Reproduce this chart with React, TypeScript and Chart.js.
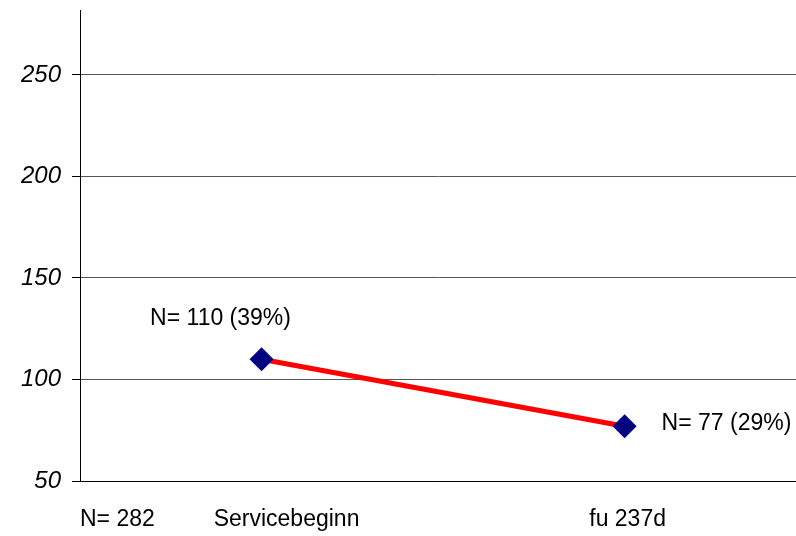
import React, { useEffect, useRef } from "react";
import { Chart, registerables } from "chart.js";

Chart.register(...registerables);

const categories = ["Servicebeginn", "fu 237d"];
const values = [110, 77];
const pointLabels = ["N= 110 (39%)", "N= 77 (29%)"];
const totalLabel = "N= 282";
const yTicks = [50, 100, 150, 200, 250];

const FONT = "'Liberation Sans', Arial, sans-serif";

const textPlugin = {
  id: "textPlugin",
  afterDatasetsDraw(chart: any) {
    const ctx = chart.ctx;
    const xs = chart.scales.x;
    const ys = chart.scales.y;
    const area = chart.chartArea;
    ctx.save();
    ctx.fillStyle = "#000";
    ctx.font = `23px ${FONT}`;
    ctx.textBaseline = "middle";
    const labelY = area.bottom + 39;
    ctx.textAlign = "left";
    ctx.fillText(totalLabel, area.left, labelY);
    ctx.textAlign = "center";
    const shifts = [25, 3];
    categories.forEach((c, i) => {
      ctx.fillText(c, xs.getPixelForValue(i) + shifts[i], labelY);
    });
    const p0x = xs.getPixelForValue(0);
    const p0y = ys.getPixelForValue(values[0]);
    ctx.textAlign = "center";
    ctx.fillText(pointLabels[0], p0x - 41, p0y - 41);
    const p1x = xs.getPixelForValue(1);
    const p1y = ys.getPixelForValue(values[1]);
    ctx.textAlign = "left";
    ctx.fillText(pointLabels[1], p1x + 37, p1y - 3);
    ctx.restore();
  },
};

export default function App() {
  const ref = useRef<HTMLCanvasElement | null>(null);
  useEffect(() => {
    if (!ref.current) return;
    const chart = new Chart(ref.current, {
      type: "line",
      data: {
        datasets: [
          {
            data: values.map((v, i) => ({ x: i, y: v })),
            borderColor: "#FF0000",
            borderWidth: 5,
            pointStyle: "rectRot",
            pointRadius: 12,
            pointBackgroundColor: "#000080",
            pointBorderColor: "#000080",
            pointBorderWidth: 0,
            tension: 0,
          },
        ],
      },
      options: {
        animation: false,
        responsive: false,
        layout: { autoPadding: false, padding: { top: 10, bottom: 55, left: 0, right: 0 } },
        plugins: { legend: { display: false }, tooltip: { enabled: false } },
        scales: {
          x: {
            type: "linear",
            min: -0.5,
            max: 1.472,
            display: true,
            grid: { display: false, drawTicks: false },
            border: { display: true, color: "#000", width: 1 },
            ticks: { display: false },
            afterFit: (s: any) => {
              s.height = 0;
              s.paddingLeft = 0;
              s.paddingRight = 0;
            },
          },
          y: {
            min: 50,
            max: 282,
            afterBuildTicks: (s: any) => {
              s.ticks = yTicks.map((v) => ({ value: v }));
            },
            afterFit: (s: any) => {
              s.width = 80;
              s.paddingTop = 0;
              s.paddingBottom = 0;
            },
            grid: {
              color: (c: any) => (c.tick && c.tick.value === 50 ? "#000" : "#555"),
              lineWidth: 1,
              drawTicks: true,
              tickLength: 8,
              tickColor: "#000",
            },
            border: { display: true, color: "#000", width: 1 },
            ticks: {
              color: "#000",
              padding: 11,
              font: { family: FONT, size: 24, style: "italic" },
            },
          },
        },
      },
      plugins: [textPlugin],
    });
    return () => chart.destroy();
  }, []);
  return (
    <div style={{ position: "fixed", left: 0, top: 0, width: 796, height: 536, background: "#fff" }}>
      <canvas ref={ref} width={796} height={536} style={{ width: 796, height: 536 }} />
    </div>
  );
}
